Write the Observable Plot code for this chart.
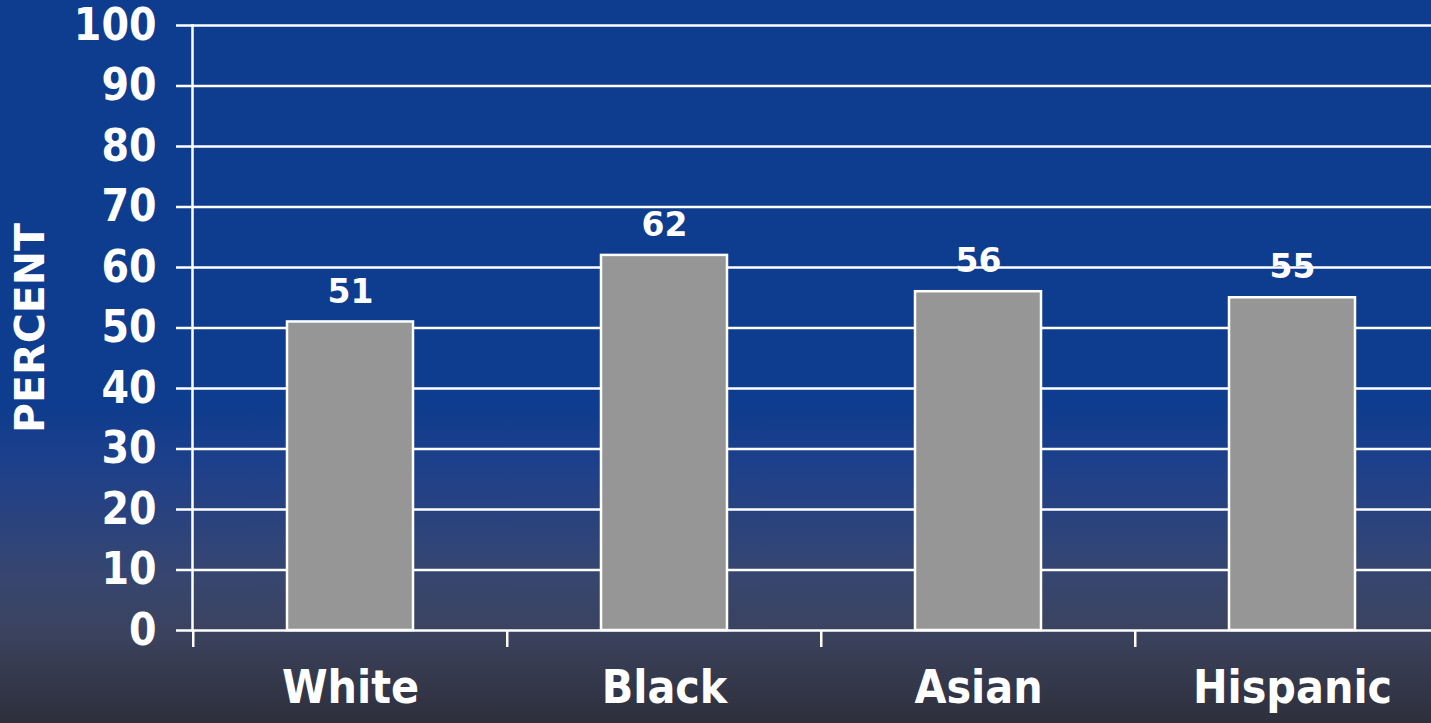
<!DOCTYPE html>
<html>
<head>
<meta charset="utf-8">
<script src="https://cdn.jsdelivr.net/npm/d3@7"></script>
<script src="https://cdn.jsdelivr.net/npm/@observablehq/plot@0.6"></script>
<style>
  html, body { margin: 0; padding: 0; background: #2e2f3b; }
  #chart svg { display: block; }
</style>
</head>
<body>
<div id="chart"></div>
<script>
const categories = ["White", "Black", "Asian", "Hispanic"];
const values = [51, 62, 56, 55];
const yTicks = [0, 10, 20, 30, 40, 50, 60, 70, 80, 90, 100];
const yLabel = "PERCENT";

const data = categories.map((c, i) => ({category: c, value: values[i]}));

const W = 1431, H = 723;
const xRange = [192, 1450];
const step = (xRange[1] - xRange[0]) / categories.length;
const font = "'DejaVu Sans Condensed', 'DejaVu Sans', sans-serif";
const wideFont = "'DejaVu Sans', sans-serif";

const chart = Plot.plot({
  width: W,
  height: H,
  marginLeft: 192,
  marginRight: 0,
  marginTop: 25,
  marginBottom: 93,
  style: {
    background: "linear-gradient(to bottom, #0e3c8e 0%, #0e3c8e 56%, #1f408a 65%, #37466f 80%, #3b425d 88%, #2e2f3b 100%)",
    fontFamily: font,
    fontWeight: "bold",
    color: "white"
  },
  x: {domain: categories, range: xRange, paddingInner: 0.6, paddingOuter: 0.3, axis: null},
  y: {domain: [0, 100], ticks: yTicks, label: null},
  marks: [
    Plot.gridY(yTicks, {stroke: "white", strokeOpacity: 1, strokeWidth: 2.5}),
    Plot.axisY(yTicks, {tickSize: 16, tickPadding: 20, fontSize: 44, fontWeight: "bold", stroke: "white", strokeWidth: 2.5, fill: "white", label: null, textStroke: "none"}),
    Plot.ruleX(categories, {x: d => d, dx: -step / 2, stroke: "white", strokeWidth: 2.5, insetTop: 605, insetBottom: -17}),
    Plot.frame({anchor: "left", stroke: "white", strokeWidth: 2.5}),
    Plot.barY(data, {x: "category", y: "value", fill: "#969696", stroke: "white", strokeWidth: 2.5}),
    Plot.text(data, {x: "category", y: "value", text: d => String(d.value), dy: -30, fill: "white", fontSize: 33, fontWeight: "bold", fontFamily: wideFont}),
    Plot.text(categories, {x: d => d, text: d => d, frameAnchor: "bottom", dy: 72, fill: "white", fontSize: 46, fontWeight: "bold"}),
    Plot.text([yLabel], {text: d => d, frameAnchor: "left", textAnchor: "middle", dx: -162, rotate: -90, fill: "white", fontSize: 41, fontWeight: "bold", fontFamily: wideFont})
  ]
});
document.getElementById("chart").append(chart);
</script>
</body>
</html>
